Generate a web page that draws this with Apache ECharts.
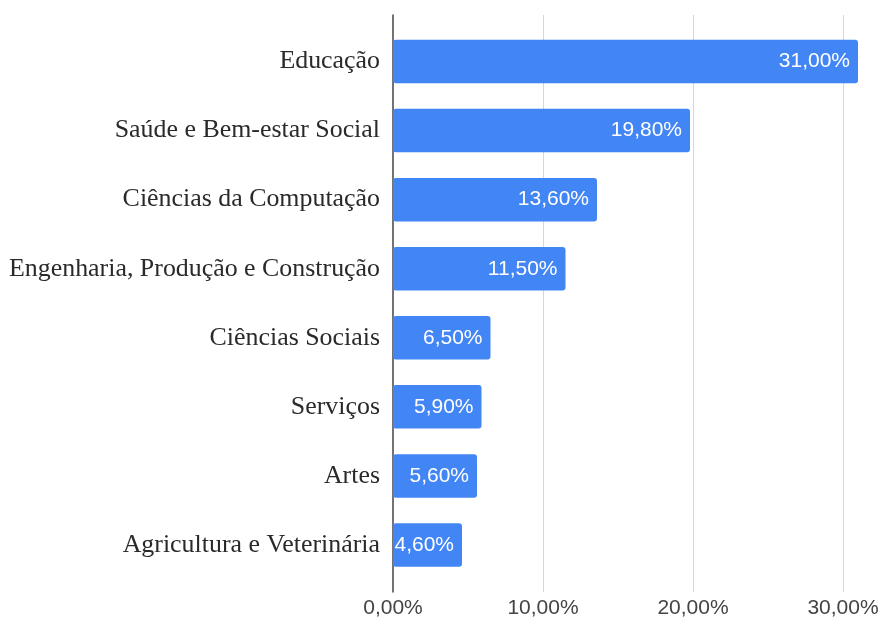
<!DOCTYPE html>
<html>
<head>
<meta charset="utf-8">
<script src="https://cdn.jsdelivr.net/npm/echarts@6/dist/echarts.min.js"></script>
<style>html,body{margin:0;padding:0;background:#fff}#c{width:882px;height:624px}</style>
</head>
<body>
<div id="c"></div>
<script>
const categories = ["Educação","Saúde e Bem-estar Social","Ciências da Computação","Engenharia, Produção e Construção","Ciências Sociais","Serviços","Artes","Agricultura e Veterinária"];
const values = [31.0, 19.8, 13.6, 11.5, 6.5, 5.9, 5.6, 4.6];
const xTicks = [0, 10, 20, 30];

const fmt = v => v.toFixed(2).replace('.', ',') + '%';
const chart = echarts.init(document.getElementById('c'), null, {renderer: 'canvas'});
const X_MAX = 32;
chart.setOption({
  animation: false,
  backgroundColor: '#fff',
  grid: [
    {left: 393, right: 9, top: 15, bottom: 32, containLabel: false, outerBoundsMode: 'none'},
    {left: 393, right: 9, top: 27, bottom: 44.5, containLabel: false, outerBoundsMode: 'none'}
  ],
  xAxis: [
    {
      gridIndex: 0, type: 'value', min: 0, max: X_MAX, interval: 10,
      axisLine: {show: false}, axisTick: {show: false},
      splitLine: {show: true, showMinLine: false, showMaxLine: false, lineStyle: {color: '#d6d6d6', width: 1}},
      axisLabel: {
        show: true, showMaxLabel: false, margin: 6, color: '#444',
        fontFamily: 'Liberation Sans, Arial, sans-serif', fontSize: 21,
        formatter: v => xTicks.includes(v) ? fmt(v) : ''
      }
    },
    {
      gridIndex: 1, type: 'value', min: 0, max: X_MAX, interval: 10, show: false
    }
  ],
  yAxis: [
    {
      gridIndex: 0, type: 'value', min: 0, max: 1,
      axisLine: {show: true, lineStyle: {color: '#444', width: 1.5}},
      axisTick: {show: false}, axisLabel: {show: false}, splitLine: {show: false}
    },
    {
      gridIndex: 1, type: 'category', data: categories, inverse: true,
      axisLine: {show: false}, axisTick: {show: false}, splitLine: {show: false},
      axisLabel: {
        margin: 13, color: '#2a2a2a',
        fontFamily: 'Liberation Serif, Times New Roman, serif', fontSize: 25.9
      }
    }
  ],
  series: [{
    type: 'bar', xAxisIndex: 1, yAxisIndex: 1,
    data: values,
    barWidth: 43.5,
    itemStyle: {color: '#4285F4', borderRadius: 3},
    label: {
      show: true, position: 'insideRight', distance: 8,
      color: '#fff', fontFamily: 'Liberation Sans, Arial, sans-serif', fontSize: 21,
      formatter: p => fmt(p.value)
    },
    z: 3
  }]
});
</script>
</body>
</html>
